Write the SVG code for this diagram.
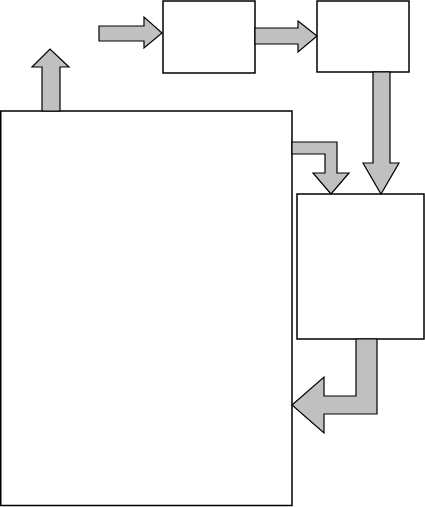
<svg xmlns="http://www.w3.org/2000/svg" width="425" height="507" viewBox="0 0 425 507">
<style>
.box{fill:#fff;stroke:#000;stroke-width:1.5}
.arr{fill:#c0c0c0;stroke:#000;stroke-width:1.2;stroke-linejoin:miter}
</style>
<rect width="425" height="507" fill="#fff"/>
<g id="main"><rect class="box" x="0.75" y="111" width="291.25" height="394.5"/></g>
<g id="box1"><rect class="box" x="163" y="1" width="92" height="72"/></g>
<g id="box2"><rect class="box" x="317" y="1" width="92" height="71"/></g>
<g id="box3"><rect class="box" x="297" y="194" width="127" height="145"/></g>
<g id="connectors">
<polygon class="arr" points="99,26 144,26 144,17 162,33 144,48 144,41 99,41"/>
<polygon class="arr" points="255,28 298,28 298,21 317,36 298,52 298,44 255,44"/>
<polygon class="arr" points="373,72 390,72 390,163 399,163 381,194 363,163 373,163"/>
<polygon class="arr" points="292,142 337,142 337,173 349,173 331,194 313,173 325,173 325,154 292,154"/>
<polygon class="arr" points="356,339 377,339 377,414 324,414 324,433 292,405 324,377 324,396 356,396"/>
<polygon class="arr" points="42,111 42,67 32,67 50,49 69,67 60,67 60,111"/>
</g>
</svg>
